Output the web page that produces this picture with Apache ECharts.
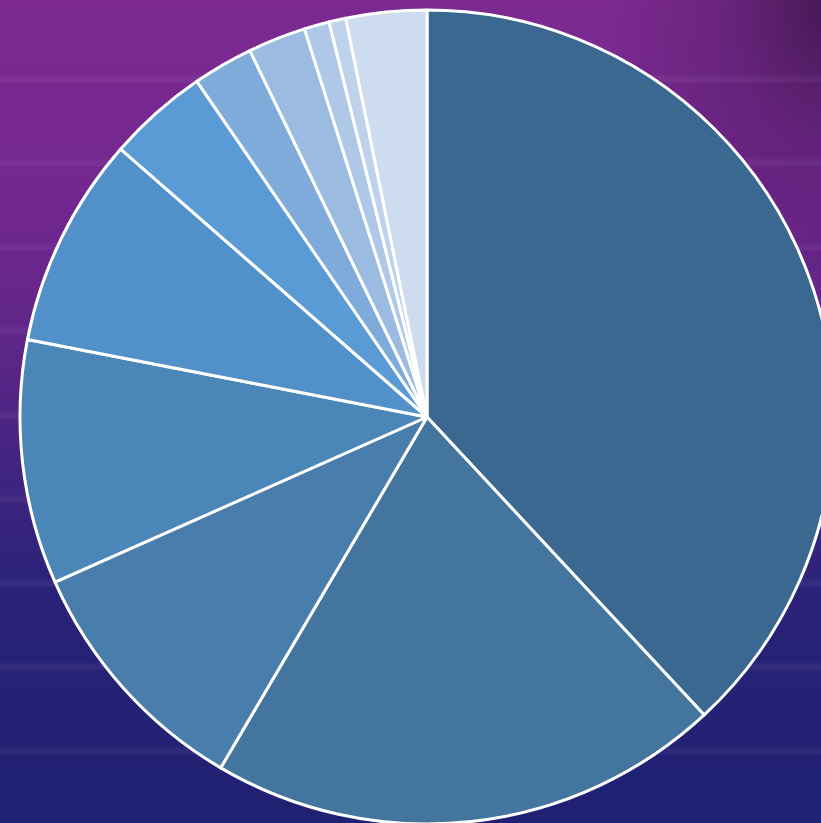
<!DOCTYPE html>
<html>
<head>
<meta charset="utf-8">
<script src="https://cdn.jsdelivr.net/npm/echarts@6/dist/echarts.min.js"></script>
<style>
html,body{margin:0;padding:0;width:821px;height:823px;overflow:hidden;}
#bg{position:absolute;left:0;top:0;width:821px;height:823px;
background:
 repeating-linear-gradient(180deg, rgba(255,255,255,0) 0px, rgba(255,255,255,0) 74px, rgba(200,170,230,0.07) 77px, rgba(200,170,230,0.07) 81px, rgba(255,255,255,0) 84px),
 radial-gradient(ellipse 220px 320px at 830px 0px, rgba(25,10,35,0.55), rgba(25,10,35,0.2) 45%, rgba(25,10,35,0) 100%),
 linear-gradient(180deg, #7c2a90 0%, #722790 25%, #5e2689 42%, #3f2480 58%, #2a2278 72%, #1f2172 100%);
}
#chart{position:absolute;left:0;top:0;width:821px;height:823px;}
</style>
</head>
<body>
<div id="bg"></div>
<div id="chart"></div>
<script>
var categories = ["Item 1","Item 2","Item 3","Item 4","Item 5","Item 6","Item 7","Item 8","Item 9","Item 10","Item 11"];
var values = [38.1, 20.4, 9.9, 9.7, 8.4, 4.0, 2.4, 2.3, 1.0, 0.67, 3.2];
var colors = ["#3a6890","#43759f","#497eac","#4b86b8","#5190c8","#5a9bd6","#7eabda","#9bbbe1","#afc8e7","#bed2eb","#cfdcef"];

var chart = echarts.init(document.getElementById('chart'), null, {renderer:'canvas'});
chart.setOption({
  backgroundColor: 'transparent',
  animation: false,
  series: [{
    type: 'pie',
    center: [427, 417],
    radius: [0, 407],
    startAngle: 90,
    clockwise: true,
    label: {show: false},
    labelLine: {show: false},
    itemStyle: {borderColor: '#ffffff', borderWidth: 3},
    emphasis: {disabled: true},
    data: categories.map(function(c, i){
      return {name: c, value: values[i], itemStyle: {color: colors[i]}};
    })
  }]
});
</script>
</body>
</html>
